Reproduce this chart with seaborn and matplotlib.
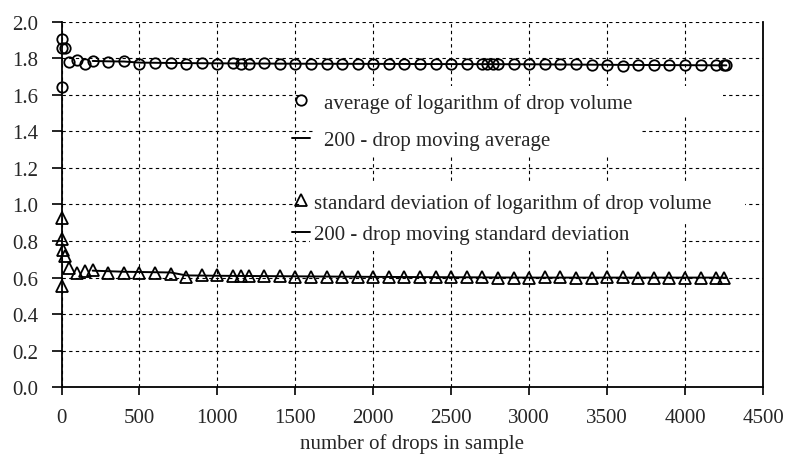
import numpy as np
import pandas as pd
import matplotlib
matplotlib.use("Agg")
import matplotlib.pyplot as plt
import seaborn as sns
from matplotlib.lines import Line2D
from matplotlib.patches import Rectangle

# ---------------- data ----------------
x_avg = [1, 3, 5, 20, 50, 100, 150, 200, 300, 400, 500, 600, 700, 800, 900, 1000,
         1100, 1150, 1200, 1300, 1400, 1500, 1600, 1700, 1800, 1900, 2000, 2100,
         2200, 2300, 2400, 2500, 2600, 2700, 2730, 2770, 2800, 2900, 3000, 3100,
         3200, 3300, 3400, 3500, 3600, 3700, 3800, 3900, 4000, 4100, 4200, 4250, 4265]
avg_log = [1.855, 1.64, 1.905, 1.855, 1.781, 1.792, 1.767, 1.785, 1.781, 1.787, 1.770,
           1.772, 1.772, 1.769, 1.772, 1.770, 1.772, 1.770, 1.768, 1.772, 1.771, 1.770,
           1.766, 1.766, 1.766, 1.768, 1.769, 1.768, 1.768, 1.768, 1.769, 1.769, 1.767,
           1.768, 1.768, 1.767, 1.766, 1.767, 1.770, 1.768, 1.768, 1.768, 1.765, 1.762,
           1.760, 1.762, 1.762, 1.762, 1.762, 1.763, 1.762, 1.762, 1.762]

x_ma = [200, 300, 400, 500, 700, 1000, 1500, 2000, 2500, 3000, 3500, 4000, 4265]
moving_avg = [1.785, 1.783, 1.782, 1.776, 1.774, 1.772, 1.770, 1.769, 1.768, 1.767,
              1.764, 1.762, 1.761]

x_sd = [1, 3, 5, 10, 20, 50, 100, 150, 200, 300, 400, 500, 600, 700, 800, 900, 1000,
        1100, 1150, 1200, 1300, 1400, 1500, 1600, 1700, 1800, 1900, 2000, 2100, 2200,
        2300, 2400, 2500, 2600, 2700, 2800, 2900, 3000, 3100, 3200, 3300, 3400, 3500,
        3600, 3700, 3800, 3900, 4000, 4100, 4200, 4250]
sd_log = [0.926, 0.553, 0.81, 0.75, 0.716, 0.651, 0.625, 0.638, 0.642, 0.627, 0.627,
          0.627, 0.627, 0.620, 0.605, 0.613, 0.613, 0.610, 0.610, 0.609, 0.610, 0.607,
          0.605, 0.606, 0.605, 0.605, 0.605, 0.605, 0.604, 0.604, 0.603, 0.603, 0.604,
          0.601, 0.601, 0.600, 0.600, 0.600, 0.601, 0.601, 0.600, 0.600, 0.601, 0.601,
          0.600, 0.600, 0.600, 0.600, 0.600, 0.600, 0.600]

x_msd = [200, 400, 700, 800, 1000, 1500, 2000, 2500, 3000, 3500, 4000, 4265]
moving_sd = [0.638, 0.632, 0.628, 0.612, 0.610, 0.607, 0.604, 0.602, 0.600, 0.600,
             0.600, 0.600]

x_ticks = [0, 500, 1000, 1500, 2000, 2500, 3000, 3500, 4000, 4500]
y_ticks = [0.0, 0.2, 0.4, 0.6, 0.8, 1.0, 1.2, 1.4, 1.6, 1.8, 2.0]
labels = ["average of logarithm of drop volume",
          "200 - drop moving average",
          "standard deviation of logarithm of drop volume",
          "200 - drop moving standard deviation"]
x_title = "number of drops in sample"

# ---------------- style ----------------
sns.set_theme(style="white")
plt.rcParams["font.family"] = ["Liberation Serif", "DejaVu Serif"]
FS = 15
MS_C, MS_T, MEW, LW = 7.5, 8, 1.3, 1.4

fig = plt.figure(figsize=(7.86, 4.56), dpi=100)
ax = fig.add_axes([61.5 / 786, 0.1485, (763 - 61.5) / 786, 0.8018])

df_avg = pd.DataFrame({"x": x_avg, "y": avg_log})
df_ma = pd.DataFrame({"x": x_ma, "y": moving_avg})
df_sd = pd.DataFrame({"x": x_sd, "y": sd_log})
df_msd = pd.DataFrame({"x": x_msd, "y": moving_sd})

sns.lineplot(data=df_ma, x="x", y="y", ax=ax, color="black", lw=LW,
             estimator=None, sort=False, zorder=3)
sns.lineplot(data=df_msd, x="x", y="y", ax=ax, color="black", lw=LW,
             estimator=None, sort=False, zorder=3)
sns.lineplot(data=df_avg, x="x", y="y", ax=ax, linestyle="", marker="o",
             markersize=MS_C, markerfacecolor="none", markeredgecolor="black",
             markeredgewidth=MEW, estimator=None, sort=False, zorder=4, clip_on=False)
sns.lineplot(data=df_sd, x="x", y="y", ax=ax, linestyle="", marker="^",
             markersize=MS_T, markerfacecolor="none", markeredgecolor="black",
             markeredgewidth=MEW, estimator=None, sort=False, zorder=4, clip_on=False)

ax.set_xlim(0, 4500)
ax.set_ylim(0, 2.0)
ax.set_xticks(x_ticks)
ax.set_yticks(y_ticks)
ax.set_xticklabels([str(t) for t in x_ticks], fontsize=FS)
ax.set_yticklabels([f"{t:.1f}" for t in y_ticks], fontsize=FS)
ax.set_xlabel(x_title, fontsize=FS, labelpad=4)
ax.set_ylabel("")

ax.grid(True, which="major", color="black", linestyle=(0, (3, 3)), linewidth=0.8)
ax.set_axisbelow(True)
for s in ["left", "bottom", "right"]:
    ax.spines[s].set_visible(True)
    ax.spines[s].set_color("black")
    ax.spines[s].set_linewidth(1.3)
    ax.spines[s].set_zorder(3.5)
ax.spines["top"].set_visible(False)
ax.tick_params(axis="y", direction="out", length=7, width=1.2, color="black", pad=10,
               left=True)
ax.tick_params(axis="x", direction="out", length=6, width=1.2, color="black", pad=9,
               bottom=True)

# white panels behind the legend texts (hide the grid there)
for (x0, x1, y0, y1) in [(0.344, 0.943, 0.739, 0.824),
                         (0.358, 0.825, 0.633, 0.739),
                         (0.340, 0.974, 0.455, 0.562),
                         (0.354, 0.882, 0.373, 0.455)]:
    ax.add_patch(Rectangle((x0, y0), x1 - x0, y1 - y0, transform=ax.transAxes,
                           facecolor="white", edgecolor="none", zorder=1))

# ---------------- legends ----------------
h_circ = Line2D([], [], linestyle="", marker="o", markersize=MS_C, markerfacecolor="none",
                markeredgecolor="black", markeredgewidth=MEW)
h_tri = Line2D([], [], linestyle="", marker="^", markersize=MS_T, markerfacecolor="none",
               markeredgecolor="black", markeredgewidth=MEW)
h_line = Line2D([], [], color="black", lw=LW)

leg1 = ax.legend([h_circ, h_line], labels[:2], loc="upper left",
                 bbox_to_anchor=(0.3168, 0.828), borderaxespad=0, borderpad=0.4,
                 handlelength=0.84, handletextpad=0.67, labelspacing=0.87,
                 fontsize=FS, frameon=False)
ax.add_artist(leg1)
leg2 = ax.legend([h_tri, h_line], labels[2:], loc="upper left",
                 bbox_to_anchor=(0.3168, 0.555), borderaxespad=0, borderpad=0.4,
                 handlelength=0.84, handletextpad=0.19, labelspacing=0.59,
                 fontsize=FS, frameon=False)

fig.savefig("out.png", dpi=100)
